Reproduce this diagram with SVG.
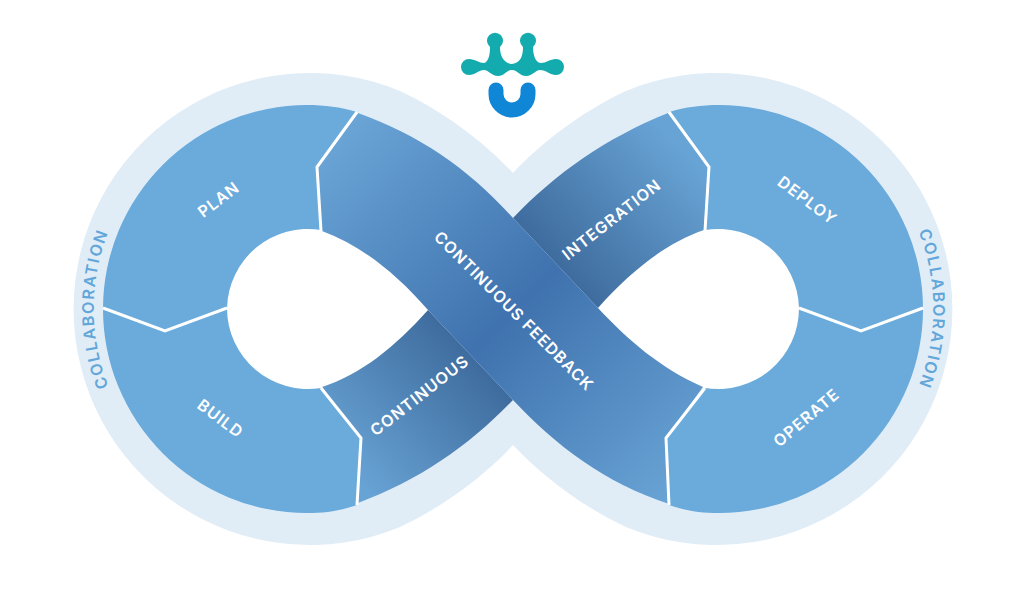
<svg xmlns="http://www.w3.org/2000/svg" width="1024" height="614" viewBox="0 0 1024 614">
<style>
.seg{fill:#6aabdc}
.hole{fill:#fff;stroke:#fff;stroke-width:3}
.sep{fill:none;stroke:#fff;stroke-width:3;stroke-linejoin:miter}
.lb{font-family:"Inter","Noto Sans","Liberation Sans",sans-serif;font-size:16px;font-weight:600;fill:#fff;text-anchor:middle;letter-spacing:1px}
.col{font-family:"Inter","Noto Sans","Liberation Sans",sans-serif;font-size:16px;font-weight:600;fill:#62a6da;text-anchor:middle;letter-spacing:1.7px}
</style>
<defs>
<linearGradient id="gF" gradientUnits="userSpaceOnUse" x1="340" y1="130" x2="690" y2="490">
<stop offset="0" stop-color="#6aa5d6"/><stop offset=".5" stop-color="#3f72ae"/><stop offset="1" stop-color="#6aa5d6"/>
</linearGradient>
<linearGradient id="gC" gradientUnits="userSpaceOnUse" x1="345" y1="470" x2="470" y2="355">
<stop offset="0" stop-color="#68a3d5"/><stop offset="1" stop-color="#3f6c9e"/>
</linearGradient>
<linearGradient id="gI" gradientUnits="userSpaceOnUse" x1="681" y1="148" x2="556" y2="263">
<stop offset="0" stop-color="#68a3d5"/><stop offset="1" stop-color="#3f6c9e"/>
</linearGradient>
<path id="cL" d="M230,507 A212,212 0 0 1 230,111"/>
<path id="cR" d="M797,111 A212,212 0 0 1 797,507"/>
</defs>
<rect width="1024" height="614" fill="#fff"/>
<path id="halo" fill="#e0edf7" d="M513,173 C485,143 445,112 400,91 A236,236 0 1 0 400,527 C445,506 485,475 513,445 C541,475 581,506 626,527 A236,236 0 1 0 626,91 C581,112 541,143 513,173 Z"/>
<path class="hole" d="M322,231 A81,81 0 1 0 322,387 C360,375 395,347 428,310 C395,272 360,245 322,231 Z"/>
<path class="hole" d="M704,231 A81,81 0 1 1 704,387 C666,372 630,345 598,308 C631,271 666,243 704,231 Z"/>
<g id="logo">
<path fill="#13abad" d="M461,67 A8,8 0 0 1 469,59 C475,59 479,63 484,63 C488,62 490,56 490,47 A8,8 0 1 1 500,47 C500,55 503,63 512,64 C521,63 523,55 523,47 A8,8 0 1 1 533,47 C533,56 536,63 541,63 C546,63 550,59 556,59 A8,8 0 0 1 556,75 C550,75 546,70 540,70 C535,70 533,76 526,76 C519,76 518,70 512,70 C506,70 505,76 498,76 C491,76 489,70 484,70 C479,70 475,75 469,75 A8,8 0 0 1 461,67 Z"/>
<path fill="none" stroke="#0f87d6" stroke-width="15" stroke-linecap="round" d="M496,90 V94 A16,16 0 0 0 528,94 V90"/>
</g>
<g id="plan"><path class="seg" d="M357,112 C340,107 325,105 307,105 A204,204 0 0 0 103,308 L165,331 L227,308 A81,81 0 0 1 321,230 L317,167 Z"/><text class="lb" transform="translate(222,204) rotate(-37)">PLAN</text></g>
<g id="build"><path class="seg" d="M357,505 C340,511 325,513 307,513 A204,204 0 0 1 103,308 L165,331 L227,308 A81,81 0 0 0 321,388 L361,438 Z"/><text class="lb" transform="translate(217,423) rotate(37)">BUILD</text></g>
<g id="deploy"><path class="seg" d="M669,112 C686,107 701,105 719,105 A204,204 0 0 1 923,308 L861,331 L799,308 A81,81 0 0 0 705,230 L709,167 Z"/><text class="lb" transform="translate(804,205) rotate(37)">DEPLOY</text></g>
<g id="operate"><path class="seg" d="M669,505 C686,511 701,513 719,513 A204,204 0 0 0 923,308 L861,331 L799,308 A81,81 0 0 1 705,388 L666,438 Z"/><text class="lb" transform="translate(810,422) rotate(-40)">OPERATE</text></g>
<g id="continuous"><path fill="url(#gC)" d="M322,387 C360,375 395,347 428,310 L513,400 C470,445 420,480 358,503 L361,438 Z"/><text class="lb" transform="translate(423,400) rotate(-38)">CONTINUOUS</text></g>
<g id="integration"><path fill="url(#gI)" d="M704,230 C666,243 631,271 598,308 L513,218 C556,173 606,138 668,113 L708,167 Z"/><text class="lb" transform="translate(615,224) rotate(-38)">INTEGRATION</text></g>
<g id="feedback"><path fill="url(#gF)" d="M358,113 C420,135 470,170 513,218 L598,308 C628,340 660,368 703,387 L666,438 L669,504 C605,483 555,445 513,400 L428,310 C395,272 360,245 322,231 L317,168 Z"/><text class="lb" transform="translate(510,315) rotate(45)">CONTINUOUS FEEDBACK</text></g>
<g id="connectors">
<path class="sep" d="M357,112 L317,167 L321,231"/>
<path class="sep" d="M103,308 L165,331 L227,308"/>
<path class="sep" d="M321,388 L361,438 L357,505"/>
<path class="sep" d="M669,112 L709,167 L705,231"/>
<path class="sep" d="M923,308 L861,331 L799,308"/>
<path class="sep" d="M705,388 L666,438 L669,505"/>
</g>
<g id="collab-left"><text class="col"><textPath href="#cL" startOffset="50%">COLLABORATION</textPath></text></g>
<g id="collab-right"><text class="col"><textPath href="#cR" startOffset="50%">COLLABORATION</textPath></text></g>
</svg>
